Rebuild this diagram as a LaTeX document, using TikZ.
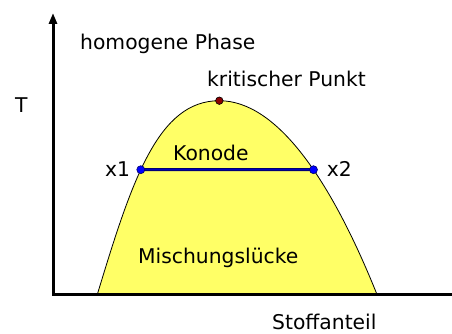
\documentclass[tikz,border=0pt]{standalone}
\usepackage{fontspec}
\setmainfont{DejaVu Sans}
\usetikzlibrary{arrows.meta,intersections}
\definecolor{gapyellow}{RGB}{255,255,102}
\definecolor{tieblue}{RGB}{0,0,190}
\definecolor{tienavy}{RGB}{0,0,110}
\definecolor{critred}{RGB}{140,0,0}
\begin{document}
\begin{tikzpicture}[x=1pt,y=-1pt,
  lbl/.style={anchor=base west,inner sep=0pt,font=\fontsize{20.3}{24}\selectfont},
  axisline/.style={line width=3pt,black},
  dotblue/.style={circle,fill=blue,draw=tienavy,line width=0.6pt,inner sep=0pt,minimum size=8pt},
  dotred/.style={circle,fill=critred,draw=black,line width=0.6pt,inner sep=0pt,minimum size=7.5pt}]
\useasboundingbox (0,0) rectangle (452,334);
% binodal curve
\coordinate (bl) at (97.3,294.5);
\coordinate (br) at (377,294.5);
\coordinate (top) at (219.3,100.7);
\fill[gapyellow] (bl) .. controls (132,180) and (158,100.7) .. (top)
  .. controls (277,100.7) and (331,180) .. (br) -- cycle;
\draw[name path=curve,black,line width=0.8pt] (bl) .. controls (132,180) and (158,100.7) .. (top)
  .. controls (277,100.7) and (331,180) .. (br);
\path[name path=tie] (60,169.7) -- (440,169.7);
\path[name intersections={of=curve and tie,by={p1,p2}}];
% tie line
\draw[tienavy,line width=3pt] (p1) -- (p2);
\draw[tieblue,line width=1pt] (p1) -- (p2);
\node[dotblue] (x1dot) at (p1) {};
\node[dotblue] (x2dot) at (p2) {};
\node[dotred] (crit) at (top) {};
% axes
\coordinate (ytip) at (53,13);
\coordinate (origin) at (53,294.5);
\coordinate (xend) at (452,294.5);
\draw[axisline,{Triangle[width=8pt,length=11pt]}-] (ytip) -- (origin) -- (xend);
% labels
\node[lbl] (hom) at (80,49.5) {homogene Phase};
\node[lbl] (tlab) at (15,113) {T};
\node[lbl] (krit) at (207,87) {kritischer Punkt};
\node[lbl] (kon) at (173,160) {Konode};
\node[lbl] (x1) at (105,176.7) {x1};
\node[lbl] (x2) at (326.7,176.7) {x2};
\node[lbl] (misch) at (138,263) {Mischungslücke};
\node[lbl] (stoff) at (272,329.5) {Stoffanteil};
\end{tikzpicture}
\end{document}
